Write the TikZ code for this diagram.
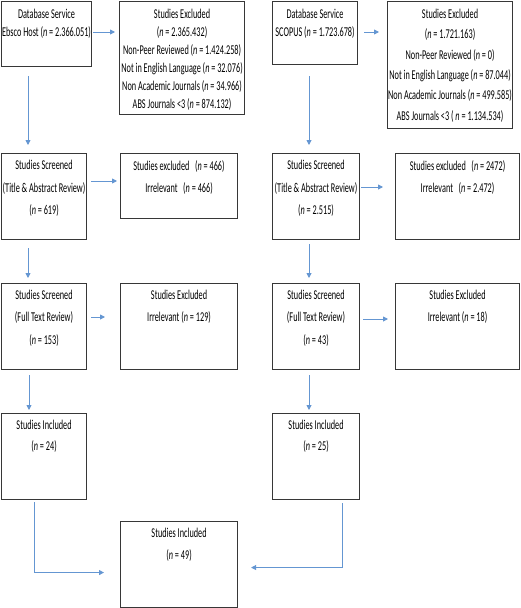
\documentclass[tikz,border=0pt]{standalone}
\usepackage{fontspec}
\setmainfont{Carlito}[FakeStretch=0.61]
\usetikzlibrary{arrows.meta,calc}
\definecolor{arrowblue}{RGB}{100,150,210}
\definecolor{boxgray}{RGB}{55,55,55}
\tikzset{
 box/.style={draw=boxgray, line width=1.1pt, anchor=north west, inner sep=0pt, fill=white},
 txt/.style={anchor=north, align=center, inner sep=0pt, text=black, font=\fontsize{13.5}{22.5}\selectfont},
 txtA/.style={txt, font=\fontsize{13.5}{18}\selectfont},
 txtB/.style={txt, font=\fontsize{13.5}{20.3}\selectfont},
 arr/.style={draw=arrowblue, line width=0.9pt, -{Triangle[length=5pt,width=5pt]}},
}
\begin{document}
\begin{tikzpicture}[x=1pt,y=-1pt]
\useasboundingbox[fill=white] (0,0) rectangle (520,608);
% left column
\node[box, minimum width=90pt, minimum height=65pt] (b1) at (1,1) {};
\node[box, minimum width=125pt, minimum height=113pt] (b2) at (119,1) {};
\node[box, minimum width=85pt, minimum height=86pt] (b3) at (1,153) {};
\node[box, minimum width=117pt, minimum height=65pt] (b4) at (120,153) {};
\node[box, minimum width=85pt, minimum height=86pt] (b5) at (1,283) {};
\node[box, minimum width=117pt, minimum height=86pt] (b6) at (120,283) {};
\node[box, minimum width=85pt, minimum height=86pt] (b7) at (1,413) {};
\node[box, minimum width=117pt, minimum height=86pt] (bF) at (120,521) {};
% right column
\node[box, minimum width=85pt, minimum height=63pt] (r1) at (272,1) {};
\node[box, minimum width=125pt, minimum height=127pt] (r2) at (387,1) {};
\node[box, minimum width=87pt, minimum height=86pt] (r3) at (272,153) {};
\node[box, minimum width=124pt, minimum height=86pt] (r4) at (395,153) {};
\node[box, minimum width=87pt, minimum height=86pt] (r5) at (272,283) {};
\node[box, minimum width=124pt, minimum height=86pt] (r6) at (395,283) {};
\node[box, minimum width=87pt, minimum height=86pt] (r7) at (272,413) {};
% texts
\node[txtA] (b1t) at ($(b1.north)+(0,7.5)$) {Database Service\\Ebsco Host (\textit{n} = 2.366.051)};
\node[txtA] (b2t) at ($(b2.north)+(0,8)$) {Studies Excluded\\(\textit{n} = 2.365.432)\\Non-Peer Reviewed (\textit{n} = 1.424.258)\\Not in English Language (\textit{n} = 32.076)\\Non Academic Journals (\textit{n} = 34.966)\\ABS Journals <3 (\textit{n} = 874.132)};
\node[txt] (b3t) at ($(b3.north)+(0,7)$) {Studies Screened\\(Title \& Abstract Review)\\(\textit{n} = 619)};
\node[txt, font=\fontsize{13.5}{22}\selectfont] (b4t) at ($(b4.north)+(0,7)$) {Studies excluded\ \ \ (\textit{n} = 466)\\Irrelevant\ \ \ (\textit{n} = 466)};
\node[txt] (b5t) at ($(b5.north)+(0,6.5)$) {Studies Screened\\(Full Text Review)\\(\textit{n} = 153)};
\node[txt] (b6t) at ($(b6.north)+(0,6.5)$) {Studies Excluded\\Irrelevant (\textit{n} = 129)};
\node[txt, font=\fontsize{13.5}{21}\selectfont] (b7t) at ($(b7.north)+(0,6.5)$) {Studies Included\\(\textit{n} = 24)};
\node[txt] (bFt) at ($(bF.north)+(0,6.5)$) {Studies Included\\(\textit{n} = 49)};
\node[txtA] (r1t) at ($(r1.north)+(0,7.5)$) {Database Service\\SCOPUS (\textit{n} = 1.723.678)};
\node[txtB] (r2t) at ($(r2.north)+(0,8)$) {Studies Excluded\\(\textit{n} = 1.721.163)\\Non-Peer Reviewed (\textit{n} = 0)\\Not in English Language (\textit{n} = 87.044)\\Non Academic Journals (\textit{n} = 499.585)\\ABS Journals <3 ( \textit{n} = 1.134.534)};
\node[txt] (r3t) at ($(r3.north)+(0,7)$) {Studies Screened\\(Title \& Abstract Review)\\(\textit{n} = 2.515)};
\node[txt, font=\fontsize{13.5}{22}\selectfont] (r4t) at ($(r4.north)+(0,7)$) {Studies excluded\ \ \ (\textit{n} = 2472)\\Irrelevant\ \ \ (\textit{n} = 2.472)};
\node[txt] (r5t) at ($(r5.north)+(0,6.5)$) {Studies Screened\\(Full Text Review)\\(\textit{n} = 43)};
\node[txt] (r6t) at ($(r6.north)+(0,6.5)$) {Studies Excluded\\Irrelevant (\textit{n} = 18)};
\node[txt, font=\fontsize{13.5}{21}\selectfont] (r7t) at ($(r7.north)+(0,6.5)$) {Studies Included\\(\textit{n} = 25)};
% arrows left
\draw[arr] ($(b1.north east)+(1,31)$) -- ($(b2.north west)+(-4,31)$);
\draw[arr] ($(b1.south west)+(27,9)$) -- ($(b3.north west)+(27,-8)$);
\draw[arr] ($(b3.north east)+(4,28)$) -- ($(b4.north west)+(-3,28)$);
\draw[arr] ($(b3.south west)+(27,8)$) -- ($(b5.north west)+(27,-5)$);
\draw[arr] ($(b5.north east)+(4,34)$) -- ($(b6.north west)+(-15,34)$);
\draw[arr] ($(b5.south west)+(28,5)$) -- ($(b7.north west)+(28,-3)$);
\draw[arr] ($(b7.south west)+(33,2)$) |- ($(bF.west)+(-16,8)$);
% arrows right
\draw[arr] ($(r1.north east)+(6,31)$) -- ($(r2.north west)+(-8,31)$);
\draw[arr] ($(r1.south west)+(37,11)$) -- ($(r3.north west)+(37,-8)$);
\draw[arr] ($(r3.north east)+(1,34)$) -- ($(r4.north west)+(-12,34)$);
\draw[arr] ($(r3.south west)+(37,4)$) -- ($(r5.north west)+(37,-5)$);
\draw[arr] ($(r5.north east)+(3,36)$) -- ($(r6.north west)+(-7,36)$);
\draw[arr] ($(r5.south west)+(37,5)$) -- ($(r7.north west)+(37,-3)$);
\draw[arr] ($(r7.south west)+(70,3)$) |- ($(bF.east)+(13,3)$);
\end{tikzpicture}
\end{document}
